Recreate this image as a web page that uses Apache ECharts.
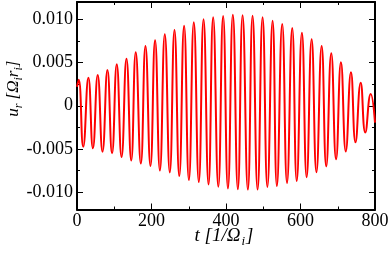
<!DOCTYPE html>
<html>
<head>
<meta charset="utf-8">
<script src="https://cdn.jsdelivr.net/npm/echarts@6/dist/echarts.min.js"></script>
<style>html,body{margin:0;padding:0;background:#fff;}#c{width:390px;height:254px;}</style>
</head>
<body>
<div id="c"></div>
<script>
// time (1/Omega_i) at extrema of the trace
var tValues = [0, 4.6, 16.7, 30.6, 42.7, 55.6, 68.5, 81.7, 94.1, 106.7, 119.6, 132.8, 145.6, 157.7, 171.4, 183.8, 197.2, 209.6, 222.5, 235.7, 249.1, 261.7, 274.6, 287.5, 300.4, 313.6, 327.0, 339.7, 353.1, 365.5, 379.4, 392.3, 405.2, 418.4, 431.8, 444.5, 458.7, 471.3, 484.8, 498.2, 511.1, 525.1, 536.6, 550.9, 563.8, 577.8, 589.9, 603.8, 616.5, 629.9, 642.8, 656.8, 669.1, 682.6, 695.5, 708.6, 721.6, 735.5, 747.6, 761.6, 773.9, 788.4, 800];
// u_r (Omega_i r_i) at those points
var urValues = [0.0022, 0.0030, -0.00474, 0.00324, -0.00492, 0.00356, -0.00531, 0.00413, -0.0055, 0.00479, -0.00593, 0.00544, -0.00633, 0.00618, -0.00668, 0.00691, -0.00697, 0.00757, -0.00749, 0.00826, -0.00771, 0.00876, -0.00813, 0.00926, -0.00859, 0.00965, -0.00882, 0.0100, -0.00911, 0.01023, -0.00936, 0.01038, -0.00957, 0.01053, -0.00966, 0.01046, -0.0097, 0.01042, -0.00969, 0.01023, -0.0094, 0.00984, -0.00928, 0.00946, -0.00893, 0.00899, -0.0087, 0.00845, -0.00826, 0.00769, -0.00769, 0.00691, -0.00701, 0.00607, -0.00619, 0.00503, -0.00528, 0.00387, -0.00423, 0.00267, -0.00309, 0.00136, -0.00196];
var yMajorTicks = [-0.01, -0.005, 0, 0.005, 0.01];
var yMinorTicks = [-0.0075, -0.0025, 0.0025, 0.0075];

var FONT = 'Liberation Serif';
var data = tValues.map(function (t, i) { return [t, urValues[i]]; });

function xAx(pos, showLabel, name) {
  return {
    type: 'value', position: pos, min: 0, max: 800, interval: 200,
    axisLine: { show: true, onZero: false, lineStyle: { color: '#000', width: 2 } },
    axisTick: { show: true, inside: true, length: 6, lineStyle: { color: '#000', width: 1 } },
    minorTick: { show: true, splitNumber: 2, length: 3, lineStyle: { color: '#000', width: 1 } },
    splitLine: { show: false }, minorSplitLine: { show: false },
    axisLabel: { show: showLabel, color: '#000', fontFamily: FONT, fontSize: 18, margin: 3 },
    name: name || '', nameLocation: 'middle', nameGap: 14, nameMoveOverlap: false,
    nameTextStyle: {
      color: '#000', fontFamily: FONT, fontStyle: 'italic', fontSize: 19, padding: [0, 4, 0, 0],
      rich: {
        it: { fontFamily: FONT, fontStyle: 'italic', fontSize: 19, color: '#000' },
        sub: { fontFamily: FONT, fontStyle: 'italic', fontSize: 13, color: '#000', padding: [12, 1, 0, 1] }
      }
    }
  };
}
function yAx(pos, ticks, len, showLabel, showLine, name) {
  return {
    type: 'value', position: pos, min: -0.012, max: 0.012,
    axisLine: { show: showLine, onZero: false, lineStyle: { color: '#000', width: 2 } },
    axisTick: { show: true, inside: true, length: len, customValues: ticks, lineStyle: { color: '#000', width: 1 } },
    splitLine: { show: false },
    axisLabel: {
      show: showLabel, customValues: ticks, color: '#000', fontFamily: FONT, fontSize: 18, margin: 4,
      formatter: function (v) { return Math.abs(v) < 1e-12 ? '0' : v.toFixed(3); }
    },
    name: name || '', nameLocation: 'middle', nameGap: 52, nameRotate: 90, nameMoveOverlap: false,
    nameTextStyle: {
      color: '#000', fontFamily: FONT, fontStyle: 'italic', fontSize: 17, padding: [0, 0, 0, 34],
      rich: {
        it: { fontFamily: FONT, fontStyle: 'italic', fontSize: 17, color: '#000' },
        sub: { fontFamily: FONT, fontStyle: 'italic', fontSize: 12, color: '#000', padding: [11, 0, 0, 0] }
      }
    }
  };
}

var chart = echarts.init(document.getElementById('c'), null, { renderer: 'canvas' });
chart.setOption({
  animation: false,
  backgroundColor: '#fff',
  grid: { left: 77, right: 15, top: 2, bottom: 44.5, containLabel: false, outerBoundsMode: 'none' },
  xAxis: [
    xAx('bottom', true, '{it|t [1/Ω}{sub|i}{it|]}'),
    xAx('top', false)
  ],
  yAxis: [
    yAx('left', yMajorTicks, 6, true, true, '{it|u}{sub|r}{it| [Ω}{sub|i}{it|r}{sub|i}{it|]}'),
    yAx('right', yMajorTicks, 6, false, true),
    yAx('left', yMinorTicks, 3, false, false),
    yAx('right', yMinorTicks, 3, false, false)
  ],
  series: [{
    type: 'line', xAxisIndex: 0, yAxisIndex: 0, data: data,
    smooth: 0.5, showSymbol: false, symbol: 'none',
    lineStyle: { color: '#ff0000', width: 2 }
  }]
});
</script>
</body>
</html>
